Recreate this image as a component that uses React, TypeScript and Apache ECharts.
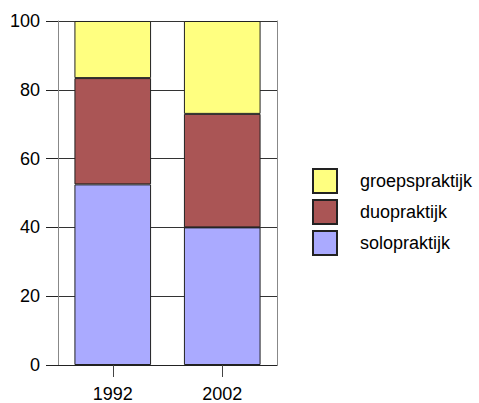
import React, { useEffect, useRef } from "react";
import * as echarts from "echarts";

const categories = ["1992", "2002"];
const seriesNames = ["solopraktijk", "duopraktijk", "groepspraktijk"];
const soloValues = [52.5, 40.0];
const duoValues = [30.9, 33.0];
const groepValues = [16.6, 27.0];
const yTicks = [0, 20, 40, 60, 80, 100];
const colors = ["#AAAAFF", "#AA5555", "#FFFF80"];

export default function App() {
  const ref = useRef<HTMLDivElement>(null);
  useEffect(() => {
    if (!ref.current) return;
    const chart = echarts.init(ref.current, null, { renderer: "svg" });
    const font = "Liberation Sans, Arial, sans-serif";
    const values = [soloValues, duoValues, groepValues];
    chart.setOption({
      animation: false,
      grid: { left: 58, right: 202, top: 21, bottom: 36, containLabel: false },
      legend: {
        orient: "vertical",
        left: 312,
        top: 168,
        padding: 0,
        itemWidth: 24,
        itemHeight: 24,
        itemGap: 5,
        icon: "rect",
        data: [seriesNames[2], seriesNames[1], seriesNames[0]],
        textStyle: { fontFamily: font, fontSize: 18, color: "#000", padding: [0, 0, 0, 18] },
      },
      xAxis: {
        type: "category",
        data: categories,
        axisLine: { show: true, lineStyle: { color: "#222", width: 1 } },
        axisTick: { show: true, alignWithLabel: true, length: 12, lineStyle: { color: "#444" } },
        axisLabel: { fontFamily: font, fontSize: 18, color: "#000", margin: 20 },
        splitLine: { show: false },
      },
      yAxis: [
        {
          type: "value",
          min: yTicks[0],
          max: yTicks[yTicks.length - 1],
          interval: 20,
          axisLine: { show: true, lineStyle: { color: "#888", width: 1 } },
          axisTick: { show: true, length: 12, lineStyle: { color: "#222" } },
          axisLabel: { fontFamily: font, fontSize: 18, color: "#000", margin: 18 },
          splitLine: { show: true, lineStyle: { color: "#333", width: 1 } },
        },
        {
          type: "value",
          position: "right",
          min: 0,
          max: 100,
          interval: 20,
          axisLine: { show: true, lineStyle: { color: "#888", width: 1 } },
          axisTick: { show: false },
          axisLabel: { show: false },
          splitLine: { show: false },
        },
      ],
      series: seriesNames.map((name, i) => ({
        name,
        type: "bar",
        stack: "total",
        barWidth: "70%",
        data: values[i],
        itemStyle: { color: colors[i], borderColor: "#222", borderWidth: 1 },
      })),
    });
    return () => chart.dispose();
  }, []);
  return <div ref={ref} style={{ width: 479, height: 403, position: "absolute", left: 0, top: 0 }} />;
}
